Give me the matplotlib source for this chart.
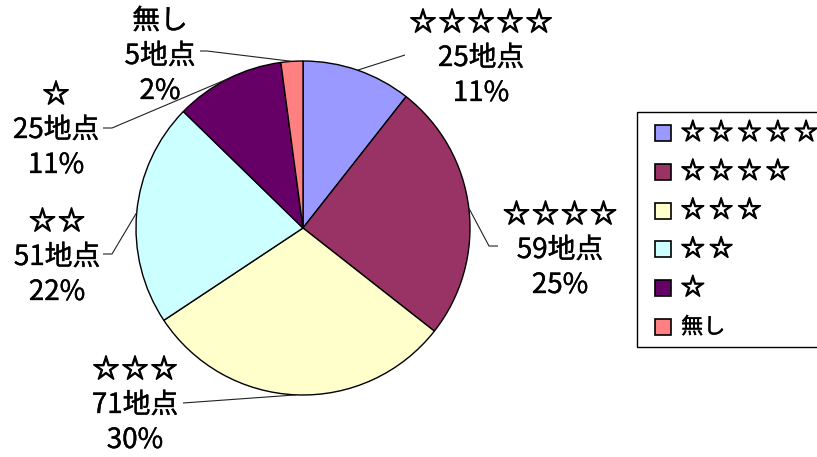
import numpy as np
import matplotlib
matplotlib.use("Agg")
import matplotlib.pyplot as plt
import matplotlib.patheffects as pe
from matplotlib.patches import Rectangle

plt.rcParams['font.family'] = ['Noto Sans CJK JP', 'DejaVu Sans']

# Ratings and number of sites per rating
categories = ["☆☆☆☆☆", "☆☆☆☆", "☆☆☆", "☆☆", "☆", "無し"]
counts = [25, 59, 71, 51, 25, 5]
colors = ["#9999FF", "#993366", "#FFFFCC", "#CCFFFF", "#660066", "#FF8080"]

W, H = 817, 457
fig = plt.figure(figsize=(W / 100, H / 100), dpi=100)
ax = fig.add_axes([0, 0, 1, 1])

def px(x, y):
    """Convert top-left pixel coordinates to axes data coordinates."""
    return x, H - y

def is_star(name):
    return name.startswith("☆")

def spaced(name, gap):
    """Put a narrow gap between the stars of a rating."""
    return gap.join(name) if is_star(name) else name

cx, cy = px(303, 228)
R = 167

wedges, _ = ax.pie(counts, colors=colors, startangle=90, counterclock=False,
                   center=(cx, cy), radius=R,
                   wedgeprops=dict(edgecolor="black", linewidth=1.0))
ax.set_xlim(0, W)
ax.set_ylim(0, H)
ax.set_aspect("equal")
ax.axis("off")

total = sum(counts)

star_fx = [pe.withStroke(linewidth=1.0, foreground="black")]
text_fx = [pe.withStroke(linewidth=0.25, foreground="black")]

# label anchor (centre of middle line) and leader path towards the text
label_pos = [(481, 58), (560, 250), (135, 405), (57, 257), (56, 130), (160, 56)]
leader_pts = [
    [(405, 55)],
    [(489, 246), (498, 246)],
    [(183, 403)],
    [(112, 254), (103, 254)],
    [(112, 128), (103, 128)],
    [(207, 51), (200, 51)],
]
line_gap = 35

cum = np.cumsum([0] + counts)
for i, (name, v) in enumerate(zip(categories, counts)):
    pct = round(v / total * 100)
    mid = (cum[i] + cum[i + 1]) / 2 / total * 2 * np.pi
    sx = cx + R * np.sin(mid)
    sy = cy + R * np.cos(mid)
    xs = [sx] + [px(*p)[0] for p in leader_pts[i]]
    ys = [sy] + [px(*p)[1] for p in leader_pts[i]]
    ax.plot(xs, ys, color="#222222", lw=0.8, solid_capstyle="butt")
    lx, ly = label_pos[i]
    if is_star(name):
        ax.text(*px(lx, ly - line_gap), spaced(name, "\u200a"), ha="center",
                va="center", fontsize=19, path_effects=star_fx)
    else:
        ax.text(*px(lx, ly - line_gap), name, ha="center", va="center",
                fontsize=20, path_effects=text_fx)
    ax.text(*px(lx, ly), f"{v}地点", ha="center", va="center", fontsize=20,
            path_effects=text_fx)
    ax.text(*px(lx, ly + line_gap), f"{pct}%", ha="center", va="center",
            fontsize=20, path_effects=text_fx)

# legend: framed box that runs off the right edge of the figure
ax.add_patch(Rectangle(px(637, 347), 220, 235, facecolor="white",
                       edgecolor="black", linewidth=1.0, zorder=3))
row0, row_gap = 133, 38.8
for i, (name, col) in enumerate(zip(categories, colors)):
    ry = row0 + i * row_gap
    ax.add_patch(Rectangle(px(655, ry + 8), 16, 16, facecolor=col,
                           edgecolor="black", linewidth=1.2, zorder=4))
    if is_star(name):
        ax.text(*px(681, ry), spaced(name, "\u2009"), ha="left", va="center",
                fontsize=17, zorder=4, path_effects=star_fx)
    else:
        ax.text(*px(681, ry), name, ha="left", va="center", fontsize=16,
                zorder=4, path_effects=text_fx)

fig.savefig("out.png", dpi=100)
